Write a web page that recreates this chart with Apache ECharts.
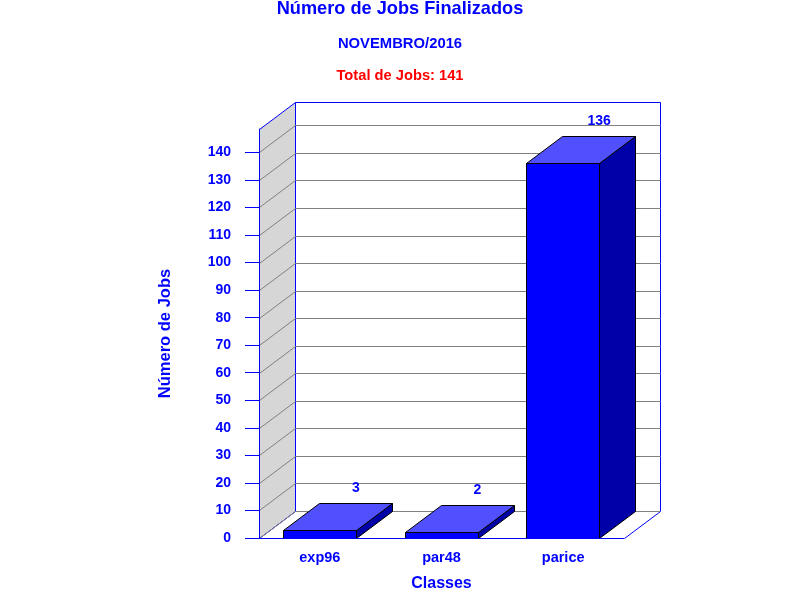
<!DOCTYPE html>
<html><head><meta charset="utf-8">
<style>html,body{margin:0;padding:0;background:#fff}#c{width:800px;height:600px}</style>
<script src="https://cdn.jsdelivr.net/npm/echarts@6/dist/echarts.min.js"></script>
</head><body><div id="c"></div>
<script>
const categories = ['exp96', 'par48', 'parice'];
const jobs = [3, 2, 136];
const ticks = [0,10,20,30,40,50,60,70,80,90,100,110,120,130,140];
const axisMax = 148.5;
const DX = 36, DY = 27;
const FONT = '"Liberation Sans", Arial, sans-serif';
const BLUE = '#0000ff';
const chart = echarts.init(document.getElementById('c'));
const txt = (text, top, size, color) => ({text, left: 'center', top, textStyle:{fontFamily:FONT, fontWeight:'bold', fontSize:size, color}});
chart.setOption({
  animation:false,
  backgroundColor:'#fff',
  title:[
    txt('Número de Jobs Finalizados', -5, 18.2, BLUE),
    txt('NOVEMBRO/2016', 31, 14.8, BLUE),
    txt('Total de Jobs: 141', 63, 14.7, '#ff0000')
  ],
  grid:{left:259, top:129, width:365, height:409, containLabel:false},
  xAxis:{type:'category', data:categories, z:5,
    axisLine:{lineStyle:{color:BLUE,width:1}}, axisTick:{show:false},
    axisLabel:{color:BLUE, fontFamily:FONT, fontWeight:'bold', fontSize:14.5, margin:12},
    name:'Classes', nameLocation:'middle', nameGap:38,
    nameTextStyle:{color:BLUE, fontFamily:FONT, fontWeight:'bold', fontSize:16}},
  yAxis:{type:'value', min:0, max:axisMax, z:5,
    axisLine:{show:true, lineStyle:{color:BLUE,width:1}},
    axisTick:{show:true, length:14, inside:false, customValues:ticks, lineStyle:{color:BLUE}},
    axisLabel:{color:BLUE, fontFamily:FONT, fontWeight:'bold', fontSize:14, margin:28, customValues:ticks},
    splitLine:{show:false},
    name:'Número de Jobs', nameLocation:'middle', nameGap:85, nameRotate:90,
    nameTextStyle:{color:BLUE, fontFamily:FONT, fontWeight:'bold', fontSize:16.5}},
  series:[
    {type:'custom', z:1, silent:true, clip:false, data:[0], encode:{y:0},
     renderItem(params){
       const g = params.coordSys, L=g.x+.5, R=g.x+g.width+.5, T=g.y+.5, B=g.y+g.height+.5;
       return {type:'group', children:[
         {type:'polygon', shape:{points:[[L,B],[L+DX,B-DY],[L+DX,T-DY],[L,T]]}, style:{fill:'#d6d6d6', stroke:BLUE, lineWidth:1}},
         {type:'polyline', shape:{points:[[L+DX,T-DY],[R+DX,T-DY],[R+DX,B-DY],[R,B]]}, style:{fill:'none', stroke:BLUE, lineWidth:1}}
       ]};
     }},
    {type:'custom', z:2, silent:true, clip:false, data:ticks, encode:{y:0},
     renderItem(params, api){
       const g = params.coordSys, L=g.x+.5, R=g.x+g.width+.5;
       const y = Math.round(api.coord([0, api.value(0)])[1])+.5;
       return {type:'polyline', shape:{points:[[L,y],[L+DX,y-DY],[R+DX,y-DY]]}, style:{fill:'none', stroke:'#808080', lineWidth:1}};
     }},
    {type:'custom', z:3, clip:false, data:jobs.map((v,i)=>[i,v]), encode:{x:0,y:1},
     renderItem(params, api){
       const c = api.coord([api.value(0), api.value(1)]);
       const b = api.coord([api.value(0), 0]);
       const w = api.size([1,0])[0]*0.6;
       const x0=Math.floor(c[0]-w/2)+.5, x1=Math.floor(c[0]+w/2)+.5, yt=Math.round(c[1])+.5, yb=Math.round(b[1])+.5;
       const st = fill => ({fill, stroke:'#000', lineWidth:1});
       return {type:'group', children:[
         {type:'polygon', shape:{points:[[x1,yt],[x1+DX,yt-DY],[x1+DX,yb-DY],[x1,yb]]}, style:st('#0000a8')},
         {type:'polygon', shape:{points:[[x0,yt],[x0+DX,yt-DY],[x1+DX,yt-DY],[x1,yt]]}, style:st('#5050ff')},
         {type:'rect', shape:{x:x0,y:yt,width:x1-x0,height:yb-yt}, style:st('#0000ff')},
         {type:'text', style:{text:String(api.value(1)), x:c[0]+DX, y:yt-DY-8, align:'center', verticalAlign:'bottom',
            fill:BLUE, font:'bold 14px '+FONT}}
       ]};
     }}
  ]
});
</script></body></html>
